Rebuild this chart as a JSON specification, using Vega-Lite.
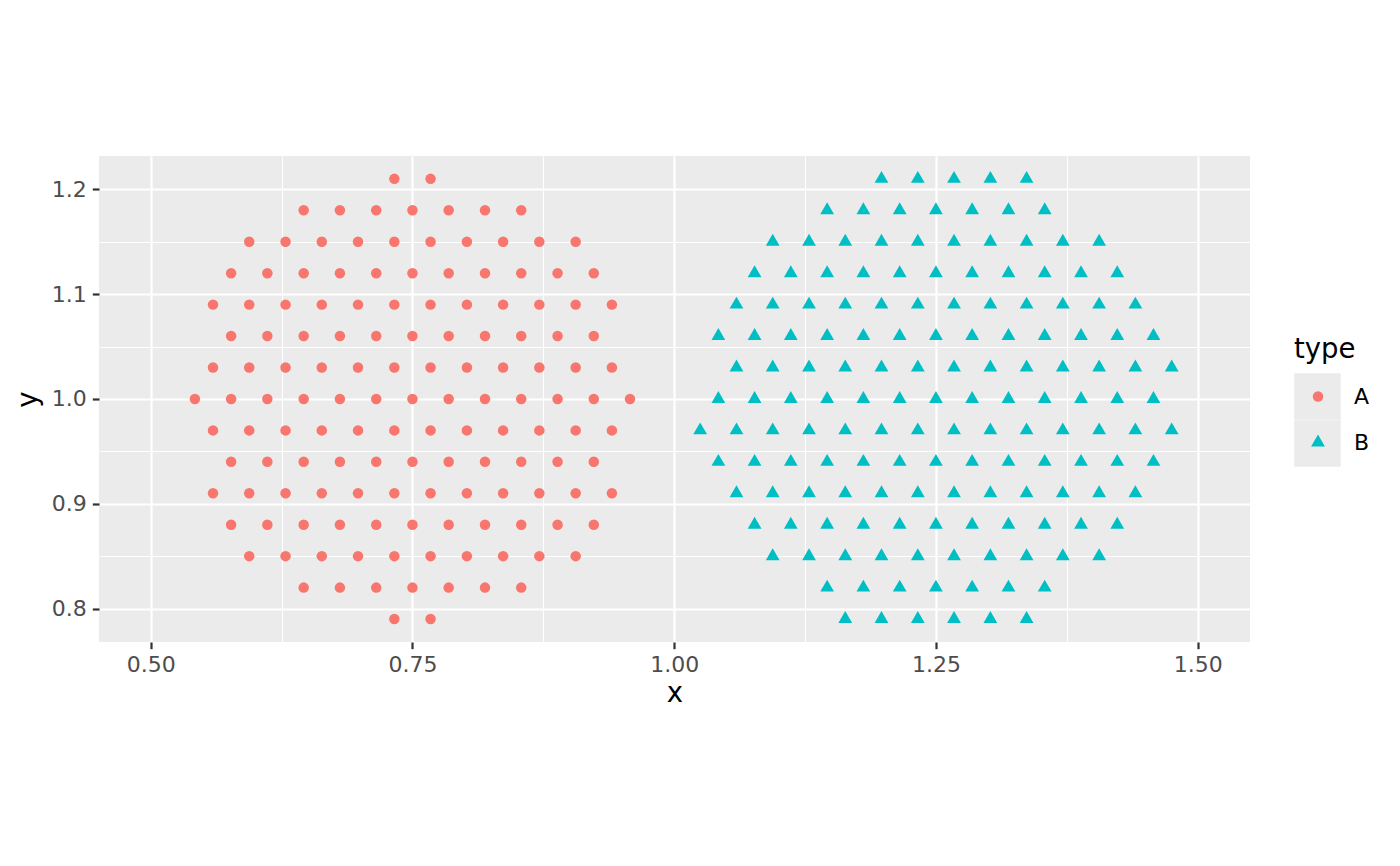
{
  "$schema": "https://vega.github.io/schema/vega-lite/v6.json",
  "autosize": "none",
  "width": 1151,
  "height": 486,
  "padding": {"left": 99, "top": 156, "right": 150, "bottom": 224},
  "background": "white",
  "data": {
    "values": [
      {"x":0.7327,"y":1.21,"type":"A"},{"x":0.7673,"y":1.21,"type":"A"},
      {"x":0.6461,"y":1.18,"type":"A"},{"x":0.6807,"y":1.18,"type":"A"},{"x":0.7154,"y":1.18,"type":"A"},{"x":0.75,"y":1.18,"type":"A"},{"x":0.7846,"y":1.18,"type":"A"},{"x":0.8193,"y":1.18,"type":"A"},{"x":0.8539,"y":1.18,"type":"A"},
      {"x":0.5941,"y":1.15,"type":"A"},{"x":0.6288,"y":1.15,"type":"A"},{"x":0.6634,"y":1.15,"type":"A"},{"x":0.698,"y":1.15,"type":"A"},{"x":0.7327,"y":1.15,"type":"A"},{"x":0.7673,"y":1.15,"type":"A"},{"x":0.802,"y":1.15,"type":"A"},{"x":0.8366,"y":1.15,"type":"A"},{"x":0.8712,"y":1.15,"type":"A"},{"x":0.9059,"y":1.15,"type":"A"},
      {"x":0.5768,"y":1.12,"type":"A"},{"x":0.6114,"y":1.12,"type":"A"},{"x":0.6461,"y":1.12,"type":"A"},{"x":0.6807,"y":1.12,"type":"A"},{"x":0.7154,"y":1.12,"type":"A"},{"x":0.75,"y":1.12,"type":"A"},{"x":0.7846,"y":1.12,"type":"A"},{"x":0.8193,"y":1.12,"type":"A"},{"x":0.8539,"y":1.12,"type":"A"},{"x":0.8886,"y":1.12,"type":"A"},{"x":0.9232,"y":1.12,"type":"A"},
      {"x":0.5595,"y":1.09,"type":"A"},{"x":0.5941,"y":1.09,"type":"A"},{"x":0.6288,"y":1.09,"type":"A"},{"x":0.6634,"y":1.09,"type":"A"},{"x":0.698,"y":1.09,"type":"A"},{"x":0.7327,"y":1.09,"type":"A"},{"x":0.7673,"y":1.09,"type":"A"},{"x":0.802,"y":1.09,"type":"A"},{"x":0.8366,"y":1.09,"type":"A"},{"x":0.8712,"y":1.09,"type":"A"},{"x":0.9059,"y":1.09,"type":"A"},{"x":0.9405,"y":1.09,"type":"A"},
      {"x":0.5768,"y":1.06,"type":"A"},{"x":0.6114,"y":1.06,"type":"A"},{"x":0.6461,"y":1.06,"type":"A"},{"x":0.6807,"y":1.06,"type":"A"},{"x":0.7154,"y":1.06,"type":"A"},{"x":0.75,"y":1.06,"type":"A"},{"x":0.7846,"y":1.06,"type":"A"},{"x":0.8193,"y":1.06,"type":"A"},{"x":0.8539,"y":1.06,"type":"A"},{"x":0.8886,"y":1.06,"type":"A"},{"x":0.9232,"y":1.06,"type":"A"},
      {"x":0.5595,"y":1.03,"type":"A"},{"x":0.5941,"y":1.03,"type":"A"},{"x":0.6288,"y":1.03,"type":"A"},{"x":0.6634,"y":1.03,"type":"A"},{"x":0.698,"y":1.03,"type":"A"},{"x":0.7327,"y":1.03,"type":"A"},{"x":0.7673,"y":1.03,"type":"A"},{"x":0.802,"y":1.03,"type":"A"},{"x":0.8366,"y":1.03,"type":"A"},{"x":0.8712,"y":1.03,"type":"A"},{"x":0.9059,"y":1.03,"type":"A"},{"x":0.9405,"y":1.03,"type":"A"},
      {"x":0.5422,"y":1.0,"type":"A"},{"x":0.5768,"y":1.0,"type":"A"},{"x":0.6114,"y":1.0,"type":"A"},{"x":0.6461,"y":1.0,"type":"A"},{"x":0.6807,"y":1.0,"type":"A"},{"x":0.7154,"y":1.0,"type":"A"},{"x":0.75,"y":1.0,"type":"A"},{"x":0.7846,"y":1.0,"type":"A"},{"x":0.8193,"y":1.0,"type":"A"},{"x":0.8539,"y":1.0,"type":"A"},{"x":0.8886,"y":1.0,"type":"A"},{"x":0.9232,"y":1.0,"type":"A"},{"x":0.9578,"y":1.0,"type":"A"},
      {"x":0.5595,"y":0.97,"type":"A"},{"x":0.5941,"y":0.97,"type":"A"},{"x":0.6288,"y":0.97,"type":"A"},{"x":0.6634,"y":0.97,"type":"A"},{"x":0.698,"y":0.97,"type":"A"},{"x":0.7327,"y":0.97,"type":"A"},{"x":0.7673,"y":0.97,"type":"A"},{"x":0.802,"y":0.97,"type":"A"},{"x":0.8366,"y":0.97,"type":"A"},{"x":0.8712,"y":0.97,"type":"A"},{"x":0.9059,"y":0.97,"type":"A"},{"x":0.9405,"y":0.97,"type":"A"},
      {"x":0.5768,"y":0.94,"type":"A"},{"x":0.6114,"y":0.94,"type":"A"},{"x":0.6461,"y":0.94,"type":"A"},{"x":0.6807,"y":0.94,"type":"A"},{"x":0.7154,"y":0.94,"type":"A"},{"x":0.75,"y":0.94,"type":"A"},{"x":0.7846,"y":0.94,"type":"A"},{"x":0.8193,"y":0.94,"type":"A"},{"x":0.8539,"y":0.94,"type":"A"},{"x":0.8886,"y":0.94,"type":"A"},{"x":0.9232,"y":0.94,"type":"A"},
      {"x":0.5595,"y":0.91,"type":"A"},{"x":0.5941,"y":0.91,"type":"A"},{"x":0.6288,"y":0.91,"type":"A"},{"x":0.6634,"y":0.91,"type":"A"},{"x":0.698,"y":0.91,"type":"A"},{"x":0.7327,"y":0.91,"type":"A"},{"x":0.7673,"y":0.91,"type":"A"},{"x":0.802,"y":0.91,"type":"A"},{"x":0.8366,"y":0.91,"type":"A"},{"x":0.8712,"y":0.91,"type":"A"},{"x":0.9059,"y":0.91,"type":"A"},{"x":0.9405,"y":0.91,"type":"A"},
      {"x":0.5768,"y":0.88,"type":"A"},{"x":0.6114,"y":0.88,"type":"A"},{"x":0.6461,"y":0.88,"type":"A"},{"x":0.6807,"y":0.88,"type":"A"},{"x":0.7154,"y":0.88,"type":"A"},{"x":0.75,"y":0.88,"type":"A"},{"x":0.7846,"y":0.88,"type":"A"},{"x":0.8193,"y":0.88,"type":"A"},{"x":0.8539,"y":0.88,"type":"A"},{"x":0.8886,"y":0.88,"type":"A"},{"x":0.9232,"y":0.88,"type":"A"},
      {"x":0.5941,"y":0.85,"type":"A"},{"x":0.6288,"y":0.85,"type":"A"},{"x":0.6634,"y":0.85,"type":"A"},{"x":0.698,"y":0.85,"type":"A"},{"x":0.7327,"y":0.85,"type":"A"},{"x":0.7673,"y":0.85,"type":"A"},{"x":0.802,"y":0.85,"type":"A"},{"x":0.8366,"y":0.85,"type":"A"},{"x":0.8712,"y":0.85,"type":"A"},{"x":0.9059,"y":0.85,"type":"A"},
      {"x":0.6461,"y":0.82,"type":"A"},{"x":0.6807,"y":0.82,"type":"A"},{"x":0.7154,"y":0.82,"type":"A"},{"x":0.75,"y":0.82,"type":"A"},{"x":0.7846,"y":0.82,"type":"A"},{"x":0.8193,"y":0.82,"type":"A"},{"x":0.8539,"y":0.82,"type":"A"},
      {"x":0.7327,"y":0.79,"type":"A"},{"x":0.7673,"y":0.79,"type":"A"},

      {"x":1.198,"y":1.21,"type":"B"},{"x":1.2327,"y":1.21,"type":"B"},{"x":1.2673,"y":1.21,"type":"B"},{"x":1.302,"y":1.21,"type":"B"},{"x":1.3366,"y":1.21,"type":"B"},
      {"x":1.1461,"y":1.18,"type":"B"},{"x":1.1807,"y":1.18,"type":"B"},{"x":1.2154,"y":1.18,"type":"B"},{"x":1.25,"y":1.18,"type":"B"},{"x":1.2846,"y":1.18,"type":"B"},{"x":1.3193,"y":1.18,"type":"B"},{"x":1.3539,"y":1.18,"type":"B"},
      {"x":1.0941,"y":1.15,"type":"B"},{"x":1.1288,"y":1.15,"type":"B"},{"x":1.1634,"y":1.15,"type":"B"},{"x":1.198,"y":1.15,"type":"B"},{"x":1.2327,"y":1.15,"type":"B"},{"x":1.2673,"y":1.15,"type":"B"},{"x":1.302,"y":1.15,"type":"B"},{"x":1.3366,"y":1.15,"type":"B"},{"x":1.3712,"y":1.15,"type":"B"},{"x":1.4059,"y":1.15,"type":"B"},
      {"x":1.0768,"y":1.12,"type":"B"},{"x":1.1114,"y":1.12,"type":"B"},{"x":1.1461,"y":1.12,"type":"B"},{"x":1.1807,"y":1.12,"type":"B"},{"x":1.2154,"y":1.12,"type":"B"},{"x":1.25,"y":1.12,"type":"B"},{"x":1.2846,"y":1.12,"type":"B"},{"x":1.3193,"y":1.12,"type":"B"},{"x":1.3539,"y":1.12,"type":"B"},{"x":1.3886,"y":1.12,"type":"B"},{"x":1.4232,"y":1.12,"type":"B"},
      {"x":1.0595,"y":1.09,"type":"B"},{"x":1.0941,"y":1.09,"type":"B"},{"x":1.1288,"y":1.09,"type":"B"},{"x":1.1634,"y":1.09,"type":"B"},{"x":1.198,"y":1.09,"type":"B"},{"x":1.2327,"y":1.09,"type":"B"},{"x":1.2673,"y":1.09,"type":"B"},{"x":1.302,"y":1.09,"type":"B"},{"x":1.3366,"y":1.09,"type":"B"},{"x":1.3712,"y":1.09,"type":"B"},{"x":1.4059,"y":1.09,"type":"B"},{"x":1.4405,"y":1.09,"type":"B"},
      {"x":1.0422,"y":1.06,"type":"B"},{"x":1.0768,"y":1.06,"type":"B"},{"x":1.1114,"y":1.06,"type":"B"},{"x":1.1461,"y":1.06,"type":"B"},{"x":1.1807,"y":1.06,"type":"B"},{"x":1.2154,"y":1.06,"type":"B"},{"x":1.25,"y":1.06,"type":"B"},{"x":1.2846,"y":1.06,"type":"B"},{"x":1.3193,"y":1.06,"type":"B"},{"x":1.3539,"y":1.06,"type":"B"},{"x":1.3886,"y":1.06,"type":"B"},{"x":1.4232,"y":1.06,"type":"B"},{"x":1.4578,"y":1.06,"type":"B"},
      {"x":1.0595,"y":1.03,"type":"B"},{"x":1.0941,"y":1.03,"type":"B"},{"x":1.1288,"y":1.03,"type":"B"},{"x":1.1634,"y":1.03,"type":"B"},{"x":1.198,"y":1.03,"type":"B"},{"x":1.2327,"y":1.03,"type":"B"},{"x":1.2673,"y":1.03,"type":"B"},{"x":1.302,"y":1.03,"type":"B"},{"x":1.3366,"y":1.03,"type":"B"},{"x":1.3712,"y":1.03,"type":"B"},{"x":1.4059,"y":1.03,"type":"B"},{"x":1.4405,"y":1.03,"type":"B"},{"x":1.4752,"y":1.03,"type":"B"},
      {"x":1.0422,"y":1.0,"type":"B"},{"x":1.0768,"y":1.0,"type":"B"},{"x":1.1114,"y":1.0,"type":"B"},{"x":1.1461,"y":1.0,"type":"B"},{"x":1.1807,"y":1.0,"type":"B"},{"x":1.2154,"y":1.0,"type":"B"},{"x":1.25,"y":1.0,"type":"B"},{"x":1.2846,"y":1.0,"type":"B"},{"x":1.3193,"y":1.0,"type":"B"},{"x":1.3539,"y":1.0,"type":"B"},{"x":1.3886,"y":1.0,"type":"B"},{"x":1.4232,"y":1.0,"type":"B"},{"x":1.4578,"y":1.0,"type":"B"},
      {"x":1.0248,"y":0.97,"type":"B"},{"x":1.0595,"y":0.97,"type":"B"},{"x":1.0941,"y":0.97,"type":"B"},{"x":1.1288,"y":0.97,"type":"B"},{"x":1.1634,"y":0.97,"type":"B"},{"x":1.198,"y":0.97,"type":"B"},{"x":1.2327,"y":0.97,"type":"B"},{"x":1.2673,"y":0.97,"type":"B"},{"x":1.302,"y":0.97,"type":"B"},{"x":1.3366,"y":0.97,"type":"B"},{"x":1.3712,"y":0.97,"type":"B"},{"x":1.4059,"y":0.97,"type":"B"},{"x":1.4405,"y":0.97,"type":"B"},{"x":1.4752,"y":0.97,"type":"B"},
      {"x":1.0422,"y":0.94,"type":"B"},{"x":1.0768,"y":0.94,"type":"B"},{"x":1.1114,"y":0.94,"type":"B"},{"x":1.1461,"y":0.94,"type":"B"},{"x":1.1807,"y":0.94,"type":"B"},{"x":1.2154,"y":0.94,"type":"B"},{"x":1.25,"y":0.94,"type":"B"},{"x":1.2846,"y":0.94,"type":"B"},{"x":1.3193,"y":0.94,"type":"B"},{"x":1.3539,"y":0.94,"type":"B"},{"x":1.3886,"y":0.94,"type":"B"},{"x":1.4232,"y":0.94,"type":"B"},{"x":1.4578,"y":0.94,"type":"B"},
      {"x":1.0595,"y":0.91,"type":"B"},{"x":1.0941,"y":0.91,"type":"B"},{"x":1.1288,"y":0.91,"type":"B"},{"x":1.1634,"y":0.91,"type":"B"},{"x":1.198,"y":0.91,"type":"B"},{"x":1.2327,"y":0.91,"type":"B"},{"x":1.2673,"y":0.91,"type":"B"},{"x":1.302,"y":0.91,"type":"B"},{"x":1.3366,"y":0.91,"type":"B"},{"x":1.3712,"y":0.91,"type":"B"},{"x":1.4059,"y":0.91,"type":"B"},{"x":1.4405,"y":0.91,"type":"B"},
      {"x":1.0768,"y":0.88,"type":"B"},{"x":1.1114,"y":0.88,"type":"B"},{"x":1.1461,"y":0.88,"type":"B"},{"x":1.1807,"y":0.88,"type":"B"},{"x":1.2154,"y":0.88,"type":"B"},{"x":1.25,"y":0.88,"type":"B"},{"x":1.2846,"y":0.88,"type":"B"},{"x":1.3193,"y":0.88,"type":"B"},{"x":1.3539,"y":0.88,"type":"B"},{"x":1.3886,"y":0.88,"type":"B"},{"x":1.4232,"y":0.88,"type":"B"},
      {"x":1.0941,"y":0.85,"type":"B"},{"x":1.1288,"y":0.85,"type":"B"},{"x":1.1634,"y":0.85,"type":"B"},{"x":1.198,"y":0.85,"type":"B"},{"x":1.2327,"y":0.85,"type":"B"},{"x":1.2673,"y":0.85,"type":"B"},{"x":1.302,"y":0.85,"type":"B"},{"x":1.3366,"y":0.85,"type":"B"},{"x":1.3712,"y":0.85,"type":"B"},{"x":1.4059,"y":0.85,"type":"B"},
      {"x":1.1461,"y":0.82,"type":"B"},{"x":1.1807,"y":0.82,"type":"B"},{"x":1.2154,"y":0.82,"type":"B"},{"x":1.25,"y":0.82,"type":"B"},{"x":1.2846,"y":0.82,"type":"B"},{"x":1.3193,"y":0.82,"type":"B"},{"x":1.3539,"y":0.82,"type":"B"},
      {"x":1.1634,"y":0.79,"type":"B"},{"x":1.198,"y":0.79,"type":"B"},{"x":1.2327,"y":0.79,"type":"B"},{"x":1.2673,"y":0.79,"type":"B"},{"x":1.302,"y":0.79,"type":"B"},{"x":1.3366,"y":0.79,"type":"B"}
    ]
  },
  "layer": [
    {
      "transform": [{"filter": "false"}],
      "mark": {"type": "square", "filled": true},
      "encoding": {
        "fill": {
          "field": "legendkey",
          "type": "nominal",
          "scale": {"domain": ["key1", "key2"], "range": ["#EBEBEB", "#EBEBEB"]},
          "legend": {
            "title": null,
            "orient": "none",
            "legendX": 1195,
            "legendY": 217,
            "padding": 0,
            "symbolType": "square",
            "symbolSize": 2162,
            "symbolStrokeWidth": 0,
            "symbolOpacity": 1,
            "rowPadding": 0,
            "labelExpr": "''",
            "labelFontSize": 1
          }
        }
      }
    },
    {
      "mark": {"type": "point", "filled": true, "opacity": 1},
      "encoding": {
        "x": {
          "field": "x",
          "type": "quantitative",
          "title": "x",
          "scale": {"domain": [0.4506, 1.55], "nice": false, "zero": false},
          "axis": {
            "values": [0.5, 0.625, 0.75, 0.875, 1, 1.125, 1.25, 1.375, 1.5],
            "labelExpr": "abs(datum.value*4-round(datum.value*4))>0.01 ? '' : format(datum.value, '.2f')",
            "gridWidth": {"condition": {"test": "abs(datum.value*4-round(datum.value*4))>0.01", "value": 1.1}, "value": 2.2},
            "tickOpacity": {"condition": {"test": "abs(datum.value*4-round(datum.value*4))>0.01", "value": 0}, "value": 1},
            "titlePadding": 4
          }
        },
        "y": {
          "field": "y",
          "type": "quantitative",
          "title": "y",
          "scale": {"domain": [0.7681, 1.2318], "nice": false, "zero": false},
          "axis": {
            "values": [0.8, 0.85, 0.9, 0.95, 1.0, 1.05, 1.1, 1.15, 1.2],
            "labelExpr": "abs(datum.value*10-round(datum.value*10))>0.01 ? '' : format(datum.value, '.1f')",
            "gridWidth": {"condition": {"test": "abs(datum.value*10-round(datum.value*10))>0.01", "value": 1.1}, "value": 2.2},
            "tickOpacity": {"condition": {"test": "abs(datum.value*10-round(datum.value*10))>0.01", "value": 0}, "value": 1},
            "titlePadding": 9
          }
        },
        "color": {
          "field": "type",
          "type": "nominal",
          "scale": {"domain": ["A", "B"], "range": ["#F8766D", "#00BFC4"]},
          "legend": {
            "title": "type",
            "orient": "none",
            "legendX": 1195,
            "legendY": 180,
            "padding": 0,
            "titlePadding": 22,
            "rowPadding": 24,
            "symbolOffset": 13,
            "labelOffset": 25,
            "symbolStrokeWidth": 0
          }
        },
        "shape": {
          "field": "type",
          "type": "nominal",
          "scale": {"domain": ["A", "B"], "range": ["circle", "M0,-1.1547L1,0.5774L-1,0.5774Z"]},
          "legend": {
            "title": "type",
            "orient": "none",
            "legendX": 1195,
            "legendY": 180,
            "padding": 0,
            "titlePadding": 22,
            "rowPadding": 24,
            "symbolOffset": 13,
            "labelOffset": 25,
            "symbolStrokeWidth": 0
          }
        },
        "size": {
          "field": "type",
          "type": "nominal",
          "scale": {"domain": ["A", "B"], "range": [110, 190]},
          "legend": {
            "title": "type",
            "orient": "none",
            "legendX": 1195,
            "legendY": 180,
            "padding": 0,
            "titlePadding": 22,
            "rowPadding": 24,
            "symbolOffset": 13,
            "labelOffset": 25,
            "symbolStrokeWidth": 0
          }
        }
      }
    }
  ],
  "config": {
    "font": "DejaVu Sans",
    "view": {"fill": "#EBEBEB", "stroke": null},
    "axis": {
      "grid": true,
      "gridColor": "#FFFFFF",
      "gridOpacity": 1,
      "domain": false,
      "tickColor": "#333333",
      "tickSize": 6.7,
      "tickWidth": 2.2,
      "labelColor": "#4D4D4D",
      "labelFont": "DejaVu Sans",
      "labelFontSize": 22,
      "labelPadding": 6,
      "titleFont": "DejaVu Sans",
      "titleFontSize": 27.5,
      "titleFontWeight": "normal",
      "titleColor": "#000000"
    },
    "legend": {
      "titleFont": "DejaVu Sans",
      "titleFontSize": 27.5,
      "titleFontWeight": "normal",
      "titleColor": "#000000",
      "labelFont": "DejaVu Sans",
      "labelFontSize": 22,
      "labelColor": "#000000"
    }
  }
}
